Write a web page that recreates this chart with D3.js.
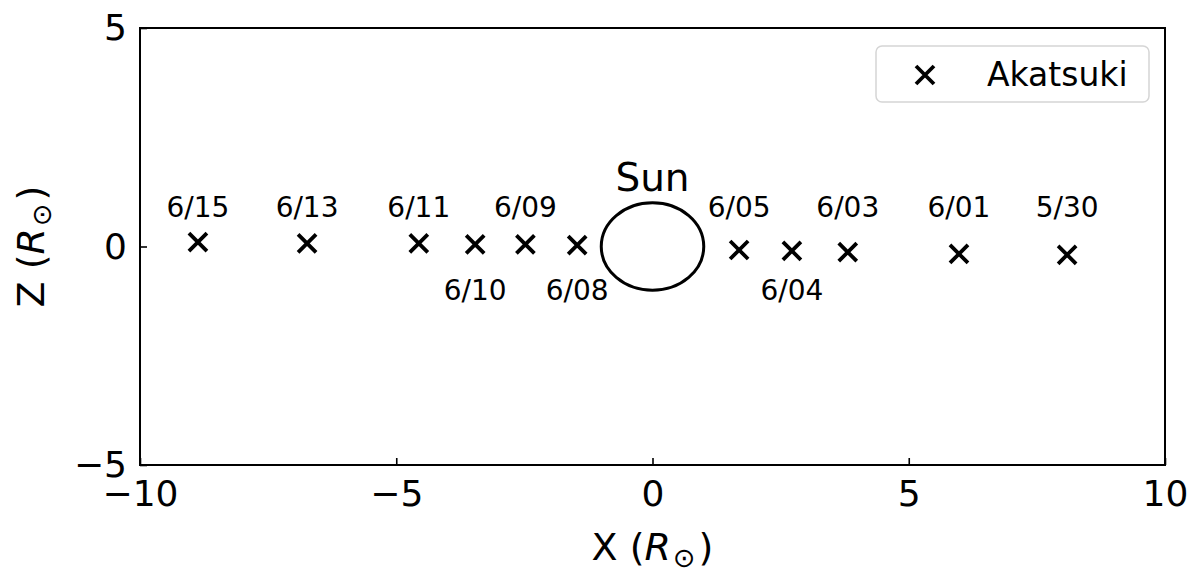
<!DOCTYPE html>
<html><head><meta charset="utf-8">
<script src="https://cdn.jsdelivr.net/npm/d3@7"></script>
<style>body{margin:0;background:#fff;} text{font-family:"DejaVu Sans",sans-serif;fill:#000;}</style>
</head><body>
<svg id="c" width="1200" height="577"></svg>
<script>
const dates = ["6/15","6/13","6/11","6/10","6/09","6/08","6/05","6/04","6/03","6/01","5/30"];
const xVals = [-8.87,-6.74,-4.56,-3.46,-2.48,-1.47,1.69,2.72,3.81,5.98,8.09];
const zVals = [0.10,0.07,0.07,0.05,0.05,0.03,-0.08,-0.10,-0.13,-0.17,-0.19];
const labelBelow = [false,false,false,true,false,true,false,true,false,false,false];
const xTicks = [-10,-5,0,5,10];
const yTicks = [-5,0,5];
const sunRadius = 1;

const svg = d3.select("#c");
const L=140,R=1165,T=28,B=465;
const x = d3.scaleLinear().domain([-10,10]).range([L,R]);
const y = d3.scaleLinear().domain([-5,5]).range([B,T]);
const fmt = d => d<0 ? "\u2212"+Math.abs(d) : String(d);

const gx = svg.append("g").attr("transform",`translate(0,${B})`)
  .call(d3.axisBottom(x).tickValues(xTicks).tickSize(-7).tickPadding(15).tickFormat(fmt));
const gy = svg.append("g").attr("transform",`translate(${L},0)`)
  .call(d3.axisLeft(y).tickValues(yTicks).tickSize(-7).tickPadding(13).tickFormat(fmt));
[gx,gy].forEach(g=>{
  g.select(".domain").remove();
  g.selectAll(".tick line").attr("stroke","#000").attr("stroke-width",1.6);
  g.selectAll(".tick text").style("font-size","36px").attr("fill","#000");
});
svg.append("rect").attr("x",L).attr("y",T).attr("width",R-L).attr("height",B-T)
  .attr("fill","none").attr("stroke","#000").attr("stroke-width",2);

// Sun
svg.append("ellipse").attr("cx",x(0)).attr("cy",y(0))
  .attr("rx",x(sunRadius)-x(0)).attr("ry",y(0)-y(sunRadius))
  .attr("fill","none").attr("stroke","#000").attr("stroke-width",3);
svg.append("text").attr("x",x(0)).attr("y",y(0)-56).attr("text-anchor","middle")
  .style("font-size","39px").text("Sun");

// markers
const ms=9;
const pts = svg.append("g");
dates.forEach((d,i)=>{
  const cx=x(xVals[i]), cy=y(zVals[i]);
  pts.append("path").attr("d",`M${cx-ms},${cy-ms}L${cx+ms},${cy+ms}M${cx-ms},${cy+ms}L${cx+ms},${cy-ms}`)
    .attr("stroke","#000").attr("stroke-width",3.8).attr("fill","none");
  pts.append("text").attr("x",cx).attr("y",labelBelow[i]? y(0)+53 : y(0)-30)
    .attr("text-anchor","middle").style("font-size","28px").text(d);
});

// axis labels
const xl = svg.append("text").attr("x",x(0)).attr("y",560).attr("text-anchor","middle").style("font-size","38px");
xl.append("tspan").text("X (");
xl.append("tspan").style("font-style","italic").text("R");
xl.append("tspan").attr("dy",7).attr("dx",2).style("font-size","27px").text("\u2299");
xl.append("tspan").attr("dy",-7).attr("dx",3).text(")");
const yl = svg.append("text").attr("transform",`translate(44,${y(0)}) rotate(-90)`).attr("text-anchor","middle").style("font-size","38px");
yl.append("tspan").text("Z (");
yl.append("tspan").style("font-style","italic").text("R");
yl.append("tspan").attr("dy",7).attr("dx",2).style("font-size","27px").text("\u2299");
yl.append("tspan").attr("dy",-7).attr("dx",3).text(")");

// legend
svg.append("rect").attr("x",876).attr("y",46).attr("width",273).attr("height",56).attr("rx",6)
  .attr("fill","#fff").attr("fill-opacity",0.8).attr("stroke","#d5d5d5").attr("stroke-width",1.5);
const lx=925, ly=75;
svg.append("path").attr("d",`M${lx-ms},${ly-ms}L${lx+ms},${ly+ms}M${lx-ms},${ly+ms}L${lx+ms},${ly-ms}`)
  .attr("stroke","#000").attr("stroke-width",3.8);
svg.append("text").attr("x",987).attr("y",86).style("font-size","33px").text("Akatsuki");
</script>
</body></html>
